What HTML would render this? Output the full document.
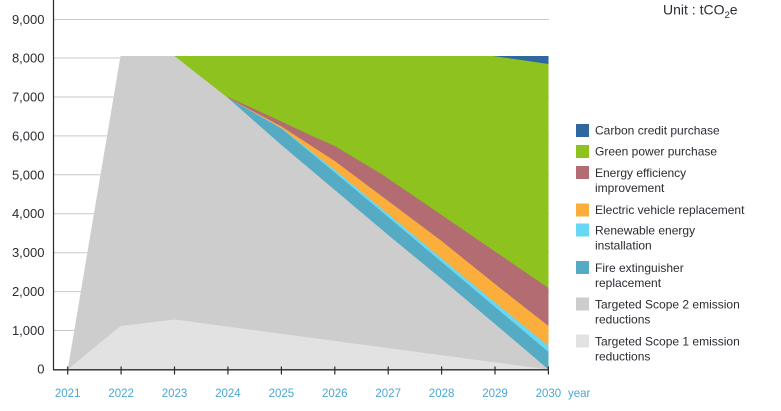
<!DOCTYPE html>
<html>
<head>
<meta charset="utf-8">
<style>
  html, body { margin:0; padding:0; background:#fff; }
  svg { display:block; }
  text { font-family: "Liberation Sans", sans-serif; }
</style>
</head>
<body>
<svg width="781" height="411" viewBox="0 0 781 411" xmlns="http://www.w3.org/2000/svg">
  <rect width="781" height="411" fill="#ffffff"/>

  <!-- gridlines -->
  <g stroke="#c9c9c9" stroke-width="1">
    <line x1="54" y1="19.5" x2="549" y2="19.5"/>
    <line x1="54" y1="58" x2="549" y2="58"/>
    <line x1="54" y1="97" x2="549" y2="97"/>
    <line x1="54" y1="135.9" x2="549" y2="135.9"/>
    <line x1="54" y1="174.8" x2="549" y2="174.8"/>
    <line x1="54" y1="213.7" x2="549" y2="213.7"/>
    <line x1="54" y1="252.7" x2="549" y2="252.7"/>
    <line x1="54" y1="291.6" x2="549" y2="291.6"/>
    <line x1="54" y1="330.5" x2="549" y2="330.5"/>
  </g>

  <!-- Carbon credit purchase -->
  <polygon fill="#2f67a0" points="490,56 548.5,56 548.5,369.5 490,369.5"/>
  <!-- Green power purchase -->
  <polygon fill="#8dc21f" points="174.5,56 493,56 548.5,64 548.5,369.5 174.5,369.5"/>
  <!-- Energy efficiency improvement -->
  <polygon fill="#b36c72" points="228,97 281.4,121.5 310,135 334.8,146 383,175 548.5,288 548.5,369.5 228,369.5"/>
  <!-- Electric vehicle replacement -->
  <polygon fill="#fbae3c" points="228,98 281.4,126.5 334.8,161 388.2,201 441.6,241 495,284 548.5,326 548.5,369.5 228,369.5"/>
  <!-- Renewable energy installation -->
  <polygon fill="#66d8f6" points="228,98 281.4,128 334.8,170 388.2,214 441.6,258.5 495,302.5 548.5,346 548.5,369.5 228,369.5"/>
  <!-- Fire extinguisher replacement -->
  <polygon fill="#55aac4" points="228,98 281.4,128.5 334.8,172.5 388.2,217 441.6,262 495,307 548.5,352 548.5,369.5 228,369.5"/>
  <!-- Targeted Scope 2 -->
  <polygon fill="#cdcdcd" points="67.7,369.5 120.5,56 174.5,56 228,98 281.4,145 334.8,190 388.2,235 441.6,279 495,324 548.5,369.5"/>
  <!-- Targeted Scope 1 -->
  <polygon fill="#e2e2e2" points="67.7,369.5 120.5,326 174.5,319.5 548.5,369.5"/>

  <!-- axes -->
  <line x1="53.5" y1="0" x2="53.5" y2="370" stroke="#2a2a2a" stroke-width="1.2"/>
  <line x1="53" y1="369.8" x2="549" y2="369.8" stroke="#2a2a2a" stroke-width="1.4"/>
  <g stroke="#2a2a2a" stroke-width="1.2">
    <line x1="67.7" y1="366.5" x2="67.7" y2="374.5"/>
    <line x1="121.1" y1="366.5" x2="121.1" y2="374.5"/>
    <line x1="174.5" y1="366.5" x2="174.5" y2="374.5"/>
    <line x1="227.9" y1="366.5" x2="227.9" y2="374.5"/>
    <line x1="281.4" y1="366.5" x2="281.4" y2="374.5"/>
    <line x1="334.8" y1="366.5" x2="334.8" y2="374.5"/>
    <line x1="388.2" y1="366.5" x2="388.2" y2="374.5"/>
    <line x1="441.6" y1="366.5" x2="441.6" y2="374.5"/>
    <line x1="495" y1="366.5" x2="495" y2="374.5"/>
    <line x1="548.4" y1="366.5" x2="548.4" y2="374.5"/>
  </g>

  <!-- y labels -->
  <g font-size="13" fill="#2b2b33" text-anchor="end">
    <text x="44.5" y="24">9,000</text>
    <text x="44.5" y="62.5">8,000</text>
    <text x="44.5" y="101.5">7,000</text>
    <text x="44.5" y="140.4">6,000</text>
    <text x="44.5" y="179.3">5,000</text>
    <text x="44.5" y="218.2">4,000</text>
    <text x="44.5" y="257.2">3,000</text>
    <text x="44.5" y="296.1">2,000</text>
    <text x="44.5" y="335">1,000</text>
    <text x="44.5" y="373.5">0</text>
  </g>

  <!-- x labels -->
  <g font-size="11.5" fill="#4ba7d6" text-anchor="middle">
    <text x="67.7" y="397">2021</text>
    <text x="121.1" y="397">2022</text>
    <text x="174.5" y="397">2023</text>
    <text x="227.9" y="397">2024</text>
    <text x="281.4" y="397">2025</text>
    <text x="334.8" y="397">2026</text>
    <text x="388.2" y="397">2027</text>
    <text x="441.6" y="397">2028</text>
    <text x="495" y="397">2029</text>
    <text x="548.4" y="397">2030</text>
  </g>
  <text x="568" y="397" font-size="11.5" fill="#4ba7d6">year</text>

  <!-- unit -->
  <text x="663" y="14.5" font-size="14" fill="#2b2b33">Unit : tCO<tspan font-size="9.5" dy="3.5">2</tspan><tspan dy="-3.5">e</tspan></text>

  <!-- legend -->
  <rect x="576" y="124" width="13" height="13" fill="#2f67a0"/>
  <rect x="576" y="145" width="13" height="13" fill="#8dc21f"/>
  <rect x="576" y="166" width="13" height="13" fill="#b36c72"/>
  <rect x="576" y="203.5" width="13" height="13" fill="#fbae3c"/>
  <rect x="576" y="223.5" width="13" height="13" fill="#66d8f6"/>
  <rect x="576" y="261" width="13" height="13" fill="#55aac4"/>
  <rect x="576" y="297.5" width="13" height="13" fill="#cdcdcd"/>
  <rect x="576" y="334.5" width="13" height="13" fill="#e2e2e2"/>

  <g font-size="12" fill="#2b2b33">
    <text x="595" y="134.5">Carbon credit purchase</text>
    <text x="595" y="155.5">Green power purchase</text>
    <text x="595" y="177">Energy efficiency</text>
    <text x="595" y="192">improvement</text>
    <text x="595" y="214">Electric vehicle replacement</text>
    <text x="595" y="234.5">Renewable energy</text>
    <text x="595" y="249.5">installation</text>
    <text x="595" y="272">Fire extinguisher</text>
    <text x="595" y="287">replacement</text>
    <text x="595" y="308.5">Targeted Scope 2 emission</text>
    <text x="595" y="323.5">reductions</text>
    <text x="595" y="345.5">Targeted Scope 1 emission</text>
    <text x="595" y="360.5">reductions</text>
  </g>
</svg>
</body>
</html>
